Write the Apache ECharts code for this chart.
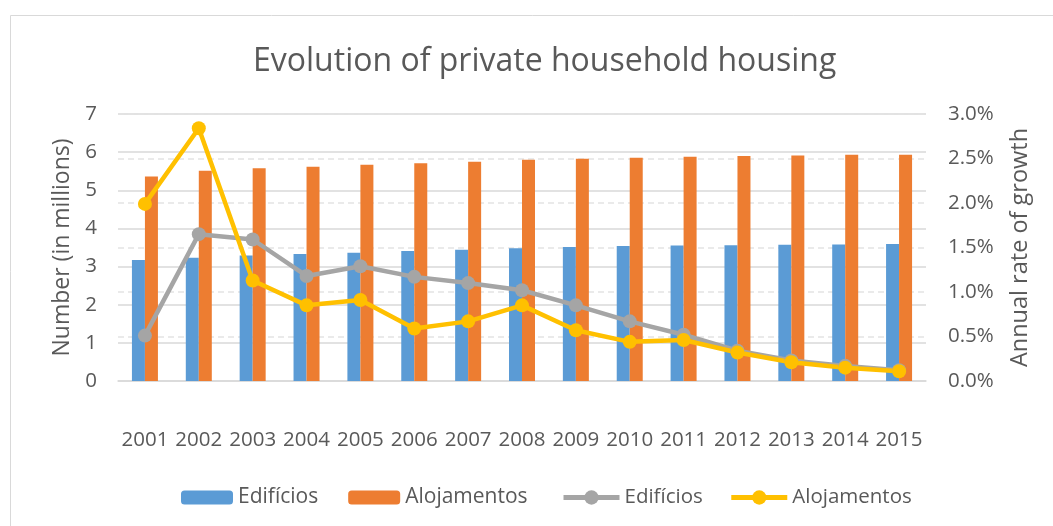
<!DOCTYPE html>
<html>
<head>
<meta charset="utf-8">
<title>Evolution of private household housing</title>
<script src="https://cdn.jsdelivr.net/npm/echarts@6/dist/echarts.min.js"></script>
<style>
  html, body { margin: 0; padding: 0; background: #fff; }
  #chart { width: 1053px; height: 526px; }
</style>
</head>
<body>
<div id="chart"></div>
<script>
// categories
const years = ["2001", "2002", "2003", "2004", "2005", "2006", "2007", "2008",
  "2009", "2010", "2011", "2012", "2013", "2014", "2015"];

// stock, in millions (left axis)
const edificios = [3.17, 3.23, 3.29, 3.33, 3.36, 3.41, 3.44, 3.48, 3.51, 3.54, 3.55, 3.56, 3.57, 3.58, 3.59];
const alojamentos = [5.36, 5.51, 5.58, 5.62, 5.67, 5.71, 5.75, 5.80, 5.83, 5.85, 5.88, 5.90, 5.91, 5.93, 5.93];

// annual rate of growth, % (right axis)
const edificiosRate = [0.51, 1.65, 1.59, 1.18, 1.29, 1.17, 1.10, 1.02, 0.85, 0.67, 0.52, 0.34, 0.23, 0.17, 0.12];
const alojamentosRate = [1.99, 2.84, 1.13, 0.85, 0.91, 0.59, 0.67, 0.85, 0.57, 0.44, 0.46, 0.32, 0.21, 0.15, 0.11];

const font = "'Open Sans', 'Noto Sans', sans-serif";
const textColor = "#595959";

const chart = echarts.init(document.getElementById("chart"));
chart.setOption({
  animation: false,
  textStyle: { fontFamily: font, color: textColor },
  title: {
    text: "Evolution of private household housing",
    left: 248,
    top: 41,
    textStyle: { fontFamily: font, fontSize: 32, fontWeight: "normal", color: textColor }
  },
  graphic: [{
    type: "rect",
    shape: { x: 10.5, y: 15.5, width: 1100, height: 600 },
    style: { fill: "none", stroke: "#D9D9D9", lineWidth: 1 },
    silent: true
  }],
  // bars and lines share names, so two legends; the trailing space is trimmed
  legend: [{
    left: 176,
    top: 482,
    itemWidth: 52,
    itemHeight: 14,
    itemGap: 30,
    textStyle: { fontFamily: font, fontSize: 21, color: textColor },
    data: ["Edifícios", "Alojamentos"]
  }, {
    left: 556,
    top: 482,
    itemWidth: 56,
    itemHeight: 18,
    itemGap: 26,
    formatter: name => name.trim(),
    lineStyle: { width: 5 },
    textStyle: { fontFamily: font, fontSize: 20.5, color: textColor },
    data: ["Edifícios ", "Alojamentos "]
  }],
  grid: { left: 118, right: 127, top: 114, bottom: 145 },
  xAxis: {
    type: "category",
    data: years,
    axisLine: { lineStyle: { color: "#D9D9D9", width: 1.5 } },
    axisTick: { show: false },
    axisLabel: { fontFamily: font, fontSize: 20.5, color: textColor, margin: 49, interval: 0 }
  },
  yAxis: [{
    type: "value",
    min: 0,
    max: 7,
    interval: 1,
    name: "Number (in millions)",
    nameLocation: "middle",
    nameGap: 44,
    nameTextStyle: { fontFamily: font, fontSize: 23, color: textColor },
    axisLine: { show: false },
    axisTick: { show: false },
    axisLabel: { fontFamily: font, fontSize: 20.5, color: textColor, margin: 21 },
    splitLine: { lineStyle: { color: "#D9D9D9", width: 1.5 } }
  }, {
    type: "value",
    min: 0,
    max: 3,
    interval: 0.5,
    name: "Annual rate of growth",
    nameLocation: "middle",
    nameGap: 82,
    nameTextStyle: { fontFamily: font, fontSize: 23.5, color: textColor },
    axisLine: { show: false },
    axisTick: { show: false },
    axisLabel: {
      fontFamily: font, fontSize: 20.5, color: textColor, margin: 22,
      formatter: v => v.toFixed(1) + "%"
    },
    splitLine: { lineStyle: { color: "#E4E4E4", width: 1.5, type: [6, 4] } }
  }],
  series: [{
    name: "Edifícios",
    type: "bar",
    data: edificios,
    barWidth: 13,
    barGap: "0%",
    itemStyle: { color: "#5B9BD5" }
  }, {
    name: "Alojamentos",
    type: "bar",
    data: alojamentos,
    barWidth: 13,
    barGap: "0%",
    itemStyle: { color: "#ED7D31" }
  }, {
    name: "Edifícios ",
    type: "line",
    yAxisIndex: 1,
    data: edificiosRate,
    symbol: "circle",
    symbolSize: 14,
    lineStyle: { color: "#A5A5A5", width: 4.5 },
    itemStyle: { color: "#A5A5A5" }
  }, {
    name: "Alojamentos ",
    type: "line",
    yAxisIndex: 1,
    data: alojamentosRate,
    symbol: "circle",
    symbolSize: 14,
    lineStyle: { color: "#FFC000", width: 4.5 },
    itemStyle: { color: "#FFC000" }
  }]
});
</script>
</body>
</html>
